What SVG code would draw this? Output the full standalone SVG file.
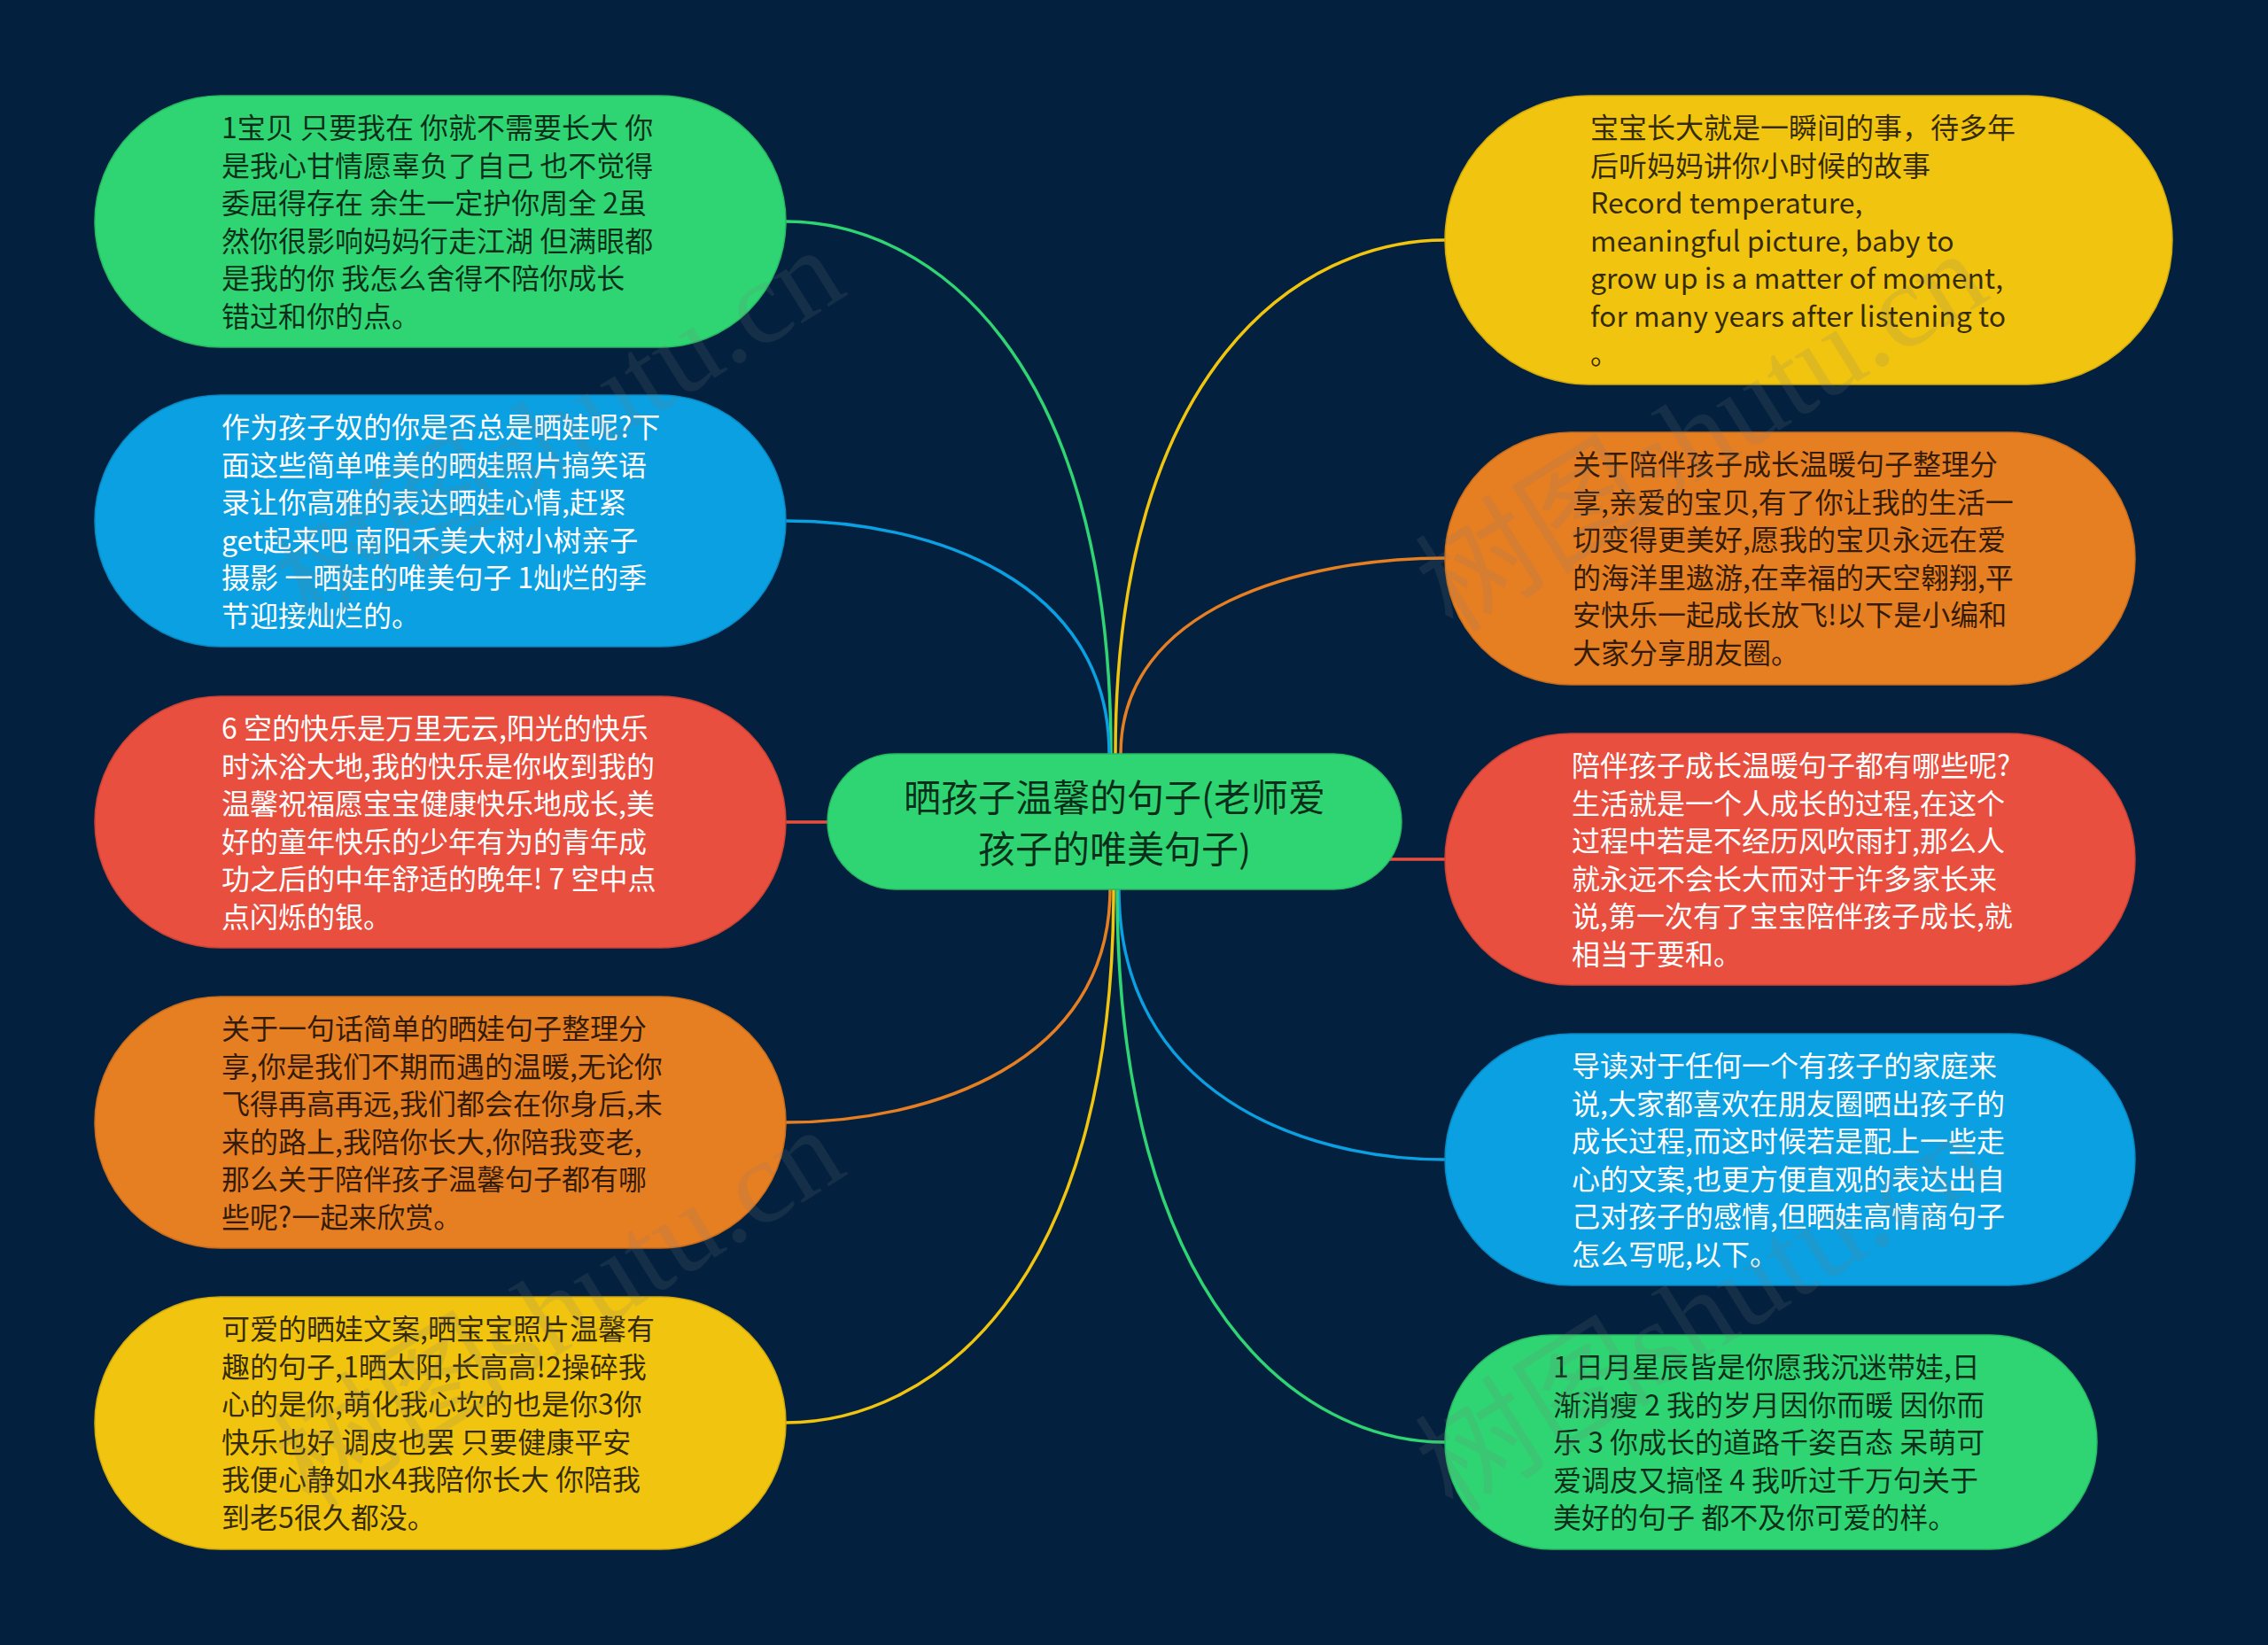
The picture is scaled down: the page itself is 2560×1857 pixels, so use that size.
<svg xmlns="http://www.w3.org/2000/svg" width="2560" height="1857" viewBox="0 0 2560 1857">
<style>
.bg{fill:#03213e}
.t{font-family:"Noto Sans CJK SC","Noto Sans",sans-serif;font-size:32px}
.dk{fill:#000;fill-opacity:0.78}
.wt{fill:#ffffff}
.ct{font-family:"Noto Sans CJK SC","Noto Sans",sans-serif;font-size:42px;text-anchor:middle}
.g{fill:#2fd573;stroke:#27b862;stroke-width:1.5}
.b{fill:#0aa0e1;stroke:#0a88c0;stroke-width:1.5}
.r{fill:#e84f3f;stroke:#c94234;stroke-width:1.5}
.o{fill:#e67e22;stroke:#c86c1c;stroke-width:1.5}
.y{fill:#f1c40f;stroke:#d0a90c;stroke-width:1.5}
.c{fill:none;stroke-width:3.5}
.wm{font-family:"Liberation Serif","Noto Sans CJK SC",serif;font-size:134px;fill:#7a7a7a;fill-opacity:0.16}
</style>
<rect class="bg" x="0" y="0" width="2560" height="1857"/>

<g id="connectors">
<path class="c" stroke="#2fd573" d="M887,250 C1048,250 1254,400 1254,851"/>
<path class="c" stroke="#0aa0e1" d="M887,588 C1048,588 1252,654 1252,851"/>
<path class="c" stroke="#e84f3f" d="M887,928 L940,928"/>
<path class="c" stroke="#e67e22" d="M887,1267 C1048,1267 1253,1201 1253,1004"/>
<path class="c" stroke="#f1c40f" d="M887,1606 C1050,1606 1257,1456 1257,1004"/>
<path class="c" stroke="#f1c40f" d="M1631,271 C1467,271 1259,416 1259,851"/>
<path class="c" stroke="#e67e22" d="M1631,630 C1470,630 1265,685 1265,851"/>
<path class="c" stroke="#e84f3f" d="M1565,970 L1631,970"/>
<path class="c" stroke="#0aa0e1" d="M1631,1309 C1469,1309 1263,1233 1263,1004"/>
<path class="c" stroke="#2fd573" d="M1631,1628 C1468,1628 1261,1472 1261,1004"/>
</g>

<g id="center">
<rect class="g" x="934" y="851" width="648" height="153" rx="76.5"/>
<text class="ct dk"><tspan x="1258" y="916">晒孩子温馨的句子(老师爱</tspan><tspan x="1258" y="974">孩子的唯美句子)</tspan></text>
</g>

<g id="left1">
<rect class="g" x="107" y="108" width="780" height="284" rx="142"/>
<text class="t dk"><tspan x="250" y="156">1宝贝 只要我在 你就不需要长大 你</tspan><tspan x="250" dy="42.5">是我心甘情愿辜负了自己 也不觉得</tspan><tspan x="250" dy="42.5">委屈得存在 余生一定护你周全 2虽</tspan><tspan x="250" dy="42.5">然你很影响妈妈行走江湖 但满眼都</tspan><tspan x="250" dy="42.5">是我的你 我怎么舍得不陪你成长</tspan><tspan x="250" dy="42.5">错过和你的点。</tspan></text>
</g>

<g id="left2">
<rect class="b" x="107" y="446" width="780" height="284" rx="142"/>
<text class="t wt"><tspan x="250" y="494">作为孩子奴的你是否总是晒娃呢?下</tspan><tspan x="250" dy="42.5">面这些简单唯美的晒娃照片搞笑语</tspan><tspan x="250" dy="42.5">录让你高雅的表达晒娃心情,赶紧</tspan><tspan x="250" dy="42.5">get起来吧 南阳禾美大树小树亲子</tspan><tspan x="250" dy="42.5">摄影 一晒娃的唯美句子 1灿烂的季</tspan><tspan x="250" dy="42.5">节迎接灿烂的。</tspan></text>
</g>

<g id="left3">
<rect class="r" x="107" y="786" width="780" height="284" rx="142"/>
<text class="t wt"><tspan x="250" y="834">6 空的快乐是万里无云,阳光的快乐</tspan><tspan x="250" dy="42.5">时沐浴大地,我的快乐是你收到我的</tspan><tspan x="250" dy="42.5">温馨祝福愿宝宝健康快乐地成长,美</tspan><tspan x="250" dy="42.5">好的童年快乐的少年有为的青年成</tspan><tspan x="250" dy="42.5">功之后的中年舒适的晚年! 7 空中点</tspan><tspan x="250" dy="42.5">点闪烁的银。</tspan></text>
</g>

<g id="left4">
<rect class="o" x="107" y="1125" width="780" height="284" rx="142"/>
<text class="t dk"><tspan x="250" y="1173">关于一句话简单的晒娃句子整理分</tspan><tspan x="250" dy="42.5">享,你是我们不期而遇的温暖,无论你</tspan><tspan x="250" dy="42.5">飞得再高再远,我们都会在你身后,未</tspan><tspan x="250" dy="42.5">来的路上,我陪你长大,你陪我变老,</tspan><tspan x="250" dy="42.5">那么关于陪伴孩子温馨句子都有哪</tspan><tspan x="250" dy="42.5">些呢?一起来欣赏。</tspan></text>
</g>

<g id="left5">
<rect class="y" x="107" y="1464" width="780" height="285" rx="142"/>
<text class="t dk"><tspan x="250" y="1512">可爱的晒娃文案,晒宝宝照片温馨有</tspan><tspan x="250" dy="42.5">趣的句子,1晒太阳,长高高!2操碎我</tspan><tspan x="250" dy="42.5">心的是你,萌化我心坎的也是你3你</tspan><tspan x="250" dy="42.5">快乐也好 调皮也罢 只要健康平安</tspan><tspan x="250" dy="42.5">我便心静如水4我陪你长大 你陪我</tspan><tspan x="250" dy="42.5">到老5很久都没。</tspan></text>
</g>

<g id="right1">
<rect class="y" x="1631" y="108" width="821" height="326" rx="163"/>
<text class="t dk"><tspan x="1795" y="156">宝宝长大就是一瞬间的事，待多年</tspan><tspan x="1795" dy="42.5">后听妈妈讲你小时候的故事</tspan><tspan x="1795" dy="42.5">Record temperature,</tspan><tspan x="1795" dy="42.5">meaningful picture, baby to</tspan><tspan x="1795" dy="42.5">grow up is a matter of moment,</tspan><tspan x="1795" dy="42.5">for many years after listening to</tspan><tspan x="1795" dy="42.5">。</tspan></text>
</g>

<g id="right2">
<rect class="o" x="1631" y="488" width="779" height="285" rx="142"/>
<text class="t dk"><tspan x="1775" y="536">关于陪伴孩子成长温暖句子整理分</tspan><tspan x="1775" dy="42.5">享,亲爱的宝贝,有了你让我的生活一</tspan><tspan x="1775" dy="42.5">切变得更美好,愿我的宝贝永远在爱</tspan><tspan x="1775" dy="42.5">的海洋里遨游,在幸福的天空翱翔,平</tspan><tspan x="1775" dy="42.5">安快乐一起成长放飞!以下是小编和</tspan><tspan x="1775" dy="42.5">大家分享朋友圈。</tspan></text>
</g>

<g id="right3">
<rect class="r" x="1631" y="828" width="779" height="284" rx="142"/>
<text class="t wt"><tspan x="1774" y="876">陪伴孩子成长温暖句子都有哪些呢?</tspan><tspan x="1774" dy="42.5">生活就是一个人成长的过程,在这个</tspan><tspan x="1774" dy="42.5">过程中若是不经历风吹雨打,那么人</tspan><tspan x="1774" dy="42.5">就永远不会长大而对于许多家长来</tspan><tspan x="1774" dy="42.5">说,第一次有了宝宝陪伴孩子成长,就</tspan><tspan x="1774" dy="42.5">相当于要和。</tspan></text>
</g>

<g id="right4">
<rect class="b" x="1631" y="1167" width="779" height="284" rx="142"/>
<text class="t wt"><tspan x="1774" y="1215">导读对于任何一个有孩子的家庭来</tspan><tspan x="1774" dy="42.5">说,大家都喜欢在朋友圈晒出孩子的</tspan><tspan x="1774" dy="42.5">成长过程,而这时候若是配上一些走</tspan><tspan x="1774" dy="42.5">心的文案,也更方便直观的表达出自</tspan><tspan x="1774" dy="42.5">己对孩子的感情,但晒娃高情商句子</tspan><tspan x="1774" dy="42.5">怎么写呢,以下。</tspan></text>
</g>

<g id="right5">
<rect class="g" x="1631" y="1507" width="736" height="242" rx="121"/>
<text class="t dk"><tspan x="1753" y="1555">1 日月星辰皆是你愿我沉迷带娃,日</tspan><tspan x="1753" dy="42.5">渐消瘦 2 我的岁月因你而暖 因你而</tspan><tspan x="1753" dy="42.5">乐 3 你成长的道路千姿百态 呆萌可</tspan><tspan x="1753" dy="42.5">爱调皮又搞怪 4 我听过千万句关于</tspan><tspan x="1753" dy="42.5">美好的句子 都不及你可爱的样。</tspan></text>
</g>

<g id="watermarks">
<text class="wm" transform="translate(350,712) rotate(-32)">树图shutu.cn</text>
<text class="wm" transform="translate(1640,716) rotate(-32)">树图shutu.cn</text>
<text class="wm" transform="translate(350,1705) rotate(-32)">树图shutu.cn</text>
<text class="wm" transform="translate(1640,1710) rotate(-32)">树图shutu.cn</text>
</g>
</svg>
